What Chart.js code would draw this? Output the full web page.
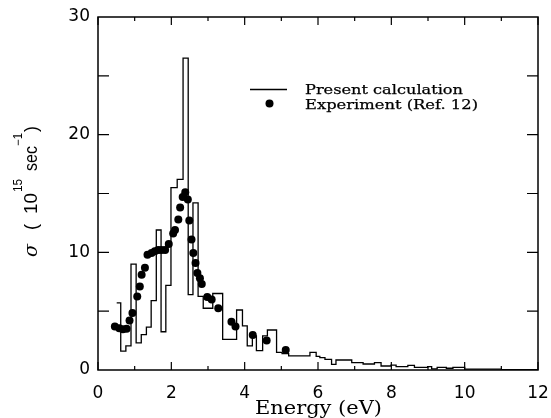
<!DOCTYPE html>
<html>
<head>
<meta charset="UTF-8">
<title>sigma vs energy</title>
<script src="https://cdn.jsdelivr.net/npm/chart.js@4"></script>
<style>
  html, body { margin: 0; padding: 0; background: #fff; }
  #wrap { width: 551px; height: 418px; }
</style>
</head>
<body>
<div id="wrap"><canvas id="c" width="551" height="418"></canvas></div>
<script>
// histogram of the calculation: bin left edges (last entry = right end) and heights
const calcEdges = [0.51, 0.62, 0.76, 0.90, 1.04, 1.18, 1.32, 1.45, 1.59, 1.72, 1.85, 1.99,
  2.16, 2.32, 2.46, 2.59, 2.73, 2.87, 3.13, 3.40, 3.78, 3.94, 4.07, 4.21, 4.32, 4.49,
  4.62, 4.87, 5.02, 5.20, 5.55, 5.78, 5.95, 6.05, 6.19, 6.37, 6.49, 6.92, 7.23, 7.54,
  7.72, 7.99, 8.13, 8.45, 8.63, 8.99, 9.10, 9.25, 9.50, 9.68, 10.0, 10.5, 11.0, 12.0];
const calcValues = [5.7, 1.6, 2.05, 9.0, 2.3, 3.0, 3.65, 5.9, 11.9, 3.25, 7.2, 15.5,
  16.2, 26.5, 6.4, 14.2, 6.25, 5.25, 6.5, 2.6, 5.1, 3.75, 2.05, 2.9, 1.65, 2.9,
  3.4, 1.5, 1.4, 1.2, 1.2, 1.5, 1.15, 1.05, 0.9, 0.48, 0.85, 0.62, 0.51, 0.62,
  0.34, 0.42, 0.28, 0.4, 0.23, 0.28, 0.1, 0.22, 0.15, 0.22, 0.08, 0.07, 0.03];

// experimental points
const expEnergy = [0.46, 0.58, 0.68, 0.78, 0.86, 0.94, 1.07, 1.14, 1.19, 1.28, 1.35, 1.46,
  1.55, 1.64, 1.73, 1.83, 1.93, 2.05, 2.10, 2.19, 2.24, 2.31, 2.38, 2.45, 2.49, 2.55,
  2.60, 2.66, 2.71, 2.78, 2.83, 2.98, 3.10, 3.28, 3.64, 3.75, 4.22, 4.60, 5.12];
const expSigma = [3.7, 3.55, 3.47, 3.5, 4.2, 4.85, 6.25, 7.1, 8.1, 8.7, 9.8, 9.95,
  10.1, 10.2, 10.2, 10.2, 10.7, 11.6, 11.9, 12.8, 13.8, 14.7, 15.1, 14.5, 12.7, 11.1,
  9.95, 9.1, 8.25, 7.8, 7.3, 6.2, 6.0, 5.25, 4.1, 3.7, 2.98, 2.5, 1.7];

const xTicks = [0, 2, 4, 6, 8, 10, 12];
const yTicks = [0, 10, 20, 30];
const seriesNames = ['Present calculation', 'Experiment (Ref. 12)'];

const calcPoints = calcValues.map((v, i) => ({ x: calcEdges[i], y: v }));
calcPoints.push({ x: calcEdges[calcEdges.length - 1], y: calcValues[calcValues.length - 1] });
const expPoints = expEnergy.map((e, i) => ({ x: e, y: expSigma[i] }));

// squeeze/stretch a text so it takes a given width
function fitText(ctx, text, x, y, w, heavy) {
  const m = ctx.measureText(text).width;
  ctx.save();
  ctx.translate(x, y);
  ctx.scale(w / m, 1);
  ctx.fillText(text, 0, 0);
  if (heavy) { ctx.lineWidth = 0.25; ctx.strokeText(text, 0, 0); }
  ctx.restore();
}

// no extra room for overhanging tick labels, the layout padding handles it
function fixBox(s, size) {
  if (s.isHorizontal()) s.height = size; else s.width = size;
  s.paddingLeft = s.paddingRight = s.paddingTop = s.paddingBottom = 0;
}

const framePlugin = {
  id: 'frame',
  afterDraw(chart) {
    const { ctx, chartArea: a, scales: { x, y } } = chart;
    ctx.save();
    ctx.strokeStyle = '#000';
    ctx.fillStyle = '#000';
    ctx.lineWidth = 1.5;
    ctx.strokeRect(a.left, a.top, a.right - a.left, a.bottom - a.top);

    // inward ticks on all sides
    ctx.lineWidth = 1.2;
    ctx.beginPath();
    for (let v = 0; v <= 12; v++) {
      const px = x.getPixelForValue(v);
      const len = v % 2 === 0 ? 8 : 4;
      ctx.moveTo(px, a.bottom); ctx.lineTo(px, a.bottom - len);
      ctx.moveTo(px, a.top); ctx.lineTo(px, a.top + len);
    }
    for (let v = 5; v < 30; v += 5) {
      const py = y.getPixelForValue(v);
      ctx.moveTo(a.left, py); ctx.lineTo(a.left + 11, py);
      ctx.moveTo(a.right, py); ctx.lineTo(a.right - 11, py);
    }
    ctx.stroke();

    // legend
    ctx.lineWidth = 1.3;
    ctx.beginPath();
    ctx.moveTo(250, 89.5); ctx.lineTo(287, 89.5);
    ctx.stroke();
    ctx.beginPath();
    ctx.arc(269.5, 103.5, 4, 0, Math.PI * 2);
    ctx.fill();
    ctx.font = '13px "DejaVu Serif"';
    ctx.textBaseline = 'alphabetic';
    fitText(ctx, seriesNames[0], 305, 94, 158, true);
    fitText(ctx, seriesNames[1], 305, 108.5, 173, true);

    // x title
    ctx.font = '18px "DejaVu Serif"';
    fitText(ctx, 'Energy (eV)', 255, 413.5, 127);

    // y title, rotated, with superscripts
    ctx.translate(36.5, 257);
    ctx.rotate(-Math.PI / 2);
    ctx.font = 'italic 19px "DejaVu Serif"';
    ctx.fillText('\u03c3', 0, 0);
    ctx.font = '18px "Liberation Sans"';
    ctx.fillText('(', 27, 0);
    fitText(ctx, '10', 43, 0, 21);
    fitText(ctx, 'sec', 86, 0, 25);
    ctx.fillText(')', 125, 0);
    ctx.font = '12px "Liberation Sans"';
    fitText(ctx, '15', 65, -15, 13);
    fitText(ctx, '\u22121', 111, -15, 13);
    ctx.restore();
  }
};

new Chart(document.getElementById('c'), {
  type: 'line',
  data: {
    datasets: [
      {
        label: seriesNames[0],
        data: calcPoints,
        stepped: 'before',
        borderColor: '#000',
        borderWidth: 1.3,
        pointRadius: 0,
        fill: false
      },
      {
        label: seriesNames[1],
        data: expPoints,
        showLine: false,
        pointRadius: 4,
        pointBackgroundColor: '#000',
        pointBorderColor: '#000',
        pointBorderWidth: 0
      }
    ]
  },
  options: {
    responsive: false,
    devicePixelRatio: 1,
    animation: false,
    layout: { padding: { left: 0, top: 17, right: 13, bottom: 0 } },
    plugins: { legend: { display: false }, tooltip: { enabled: false } },
    scales: {
      x: {
        type: 'linear', min: 0, max: 12,
        afterFit: s => fixBox(s, 48),
        afterBuildTicks: s => { s.ticks = xTicks.map(v => ({ value: v })); },
        grid: { display: false, drawTicks: false },
        border: { display: false },
        ticks: { color: '#000', padding: 13, maxRotation: 0,
                 font: { family: 'DejaVu Sans', size: 17 } }
      },
      y: {
        type: 'linear', min: 0, max: 30,
        afterFit: s => fixBox(s, 98),
        afterBuildTicks: s => { s.ticks = yTicks.map(v => ({ value: v })); },
        grid: { display: false, drawTicks: false },
        border: { display: false },
        ticks: { color: '#000', padding: 8,
                 font: { family: 'DejaVu Sans', size: 17 } }
      }
    }
  },
  plugins: [framePlugin]
});
</script>
</body>
</html>
